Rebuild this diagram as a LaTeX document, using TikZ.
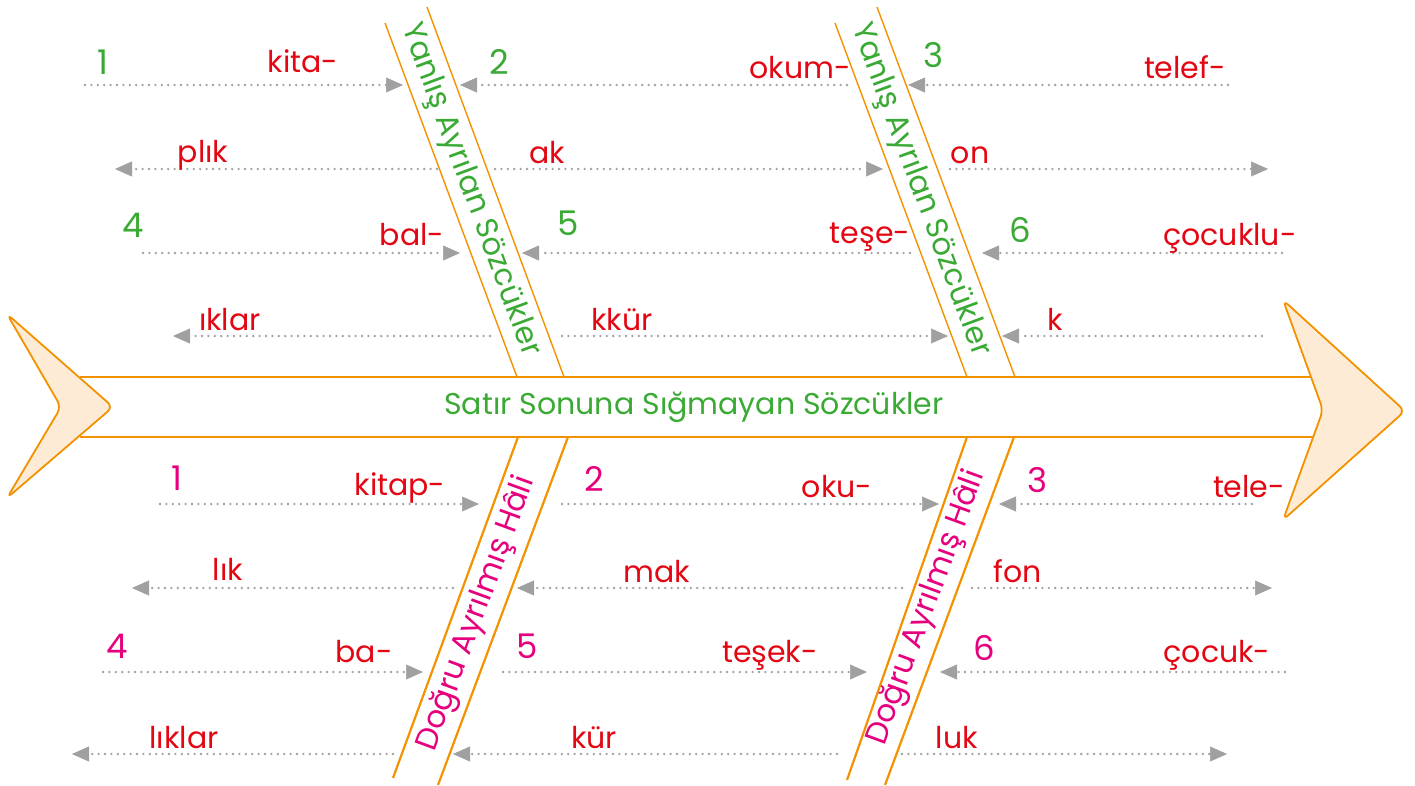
\documentclass[tikz,border=0pt]{standalone}
\usepackage{fontspec}
\setmainfont{Poppins}
\usetikzlibrary{arrows.meta}

\definecolor{boneorange}{RGB}{243,146,0}
\definecolor{fishfill}{RGB}{253,235,213}
\definecolor{wronggreen}{RGB}{58,170,53}
\definecolor{rightpink}{RGB}{230,0,126}
\definecolor{syllred}{RGB}{227,6,19}
\definecolor{dotgray}{RGB}{160,160,160}

\begin{document}
\begin{tikzpicture}[x=1pt,y=-1pt,
  dotarrow/.style={draw=dotgray, line width=2.6pt, line cap=round,
    dash pattern=on 0pt off 6.4pt,
    -{Triangle[length=17pt,width=15pt,line width=0.5pt,fill=dotgray]}},
  bone/.style={draw=boneorange, line width=1.4pt},
  syll/.style={anchor=base, inner sep=0pt, text=syllred,
    font=\fontsize{30}{30}\selectfont},
  numwrong/.style={inner sep=0pt, text=wronggreen, font=\fontsize{34}{34}\selectfont},
  numright/.style={inner sep=0pt, text=rightpink, font=\fontsize{34}{34}\selectfont},
  bonetext/.style={inner sep=0pt, font=\fontsize{30}{30}\selectfont}]

  \useasboundingbox (0,0) rectangle (1415,785);

  % spine
  \draw[bone] (80,377) -- (1320,377);
  \draw[bone] (80,437) -- (1320,437);
  \path [draw=boneorange, line width=1.8pt, fill=fishfill, rounded corners=7pt]
    (7,314) -- (113,407) -- (7,498) -- (61,407) -- cycle;
  \path [draw=boneorange, line width=1.8pt, fill=fishfill, rounded corners=7pt]
    (1283,300) -- (1405,411) -- (1283,520) -- (1323,410) -- cycle;
  \node[bonetext, text=wronggreen] (spine) at (694,407) {Satır Sonuna Sığmayan Sözcükler};

  % upper bones
  \draw[bone] (385,23) -- (517,377);
  \draw[bone] (427,7) -- (564,377);
  \draw[bone] (835,23) -- (967,377);
  \draw[bone] (877,7) -- (1015,377);
  \node[bonetext, text=wronggreen, rotate=-69.7, font=\fontsize{30.5}{30.5}\selectfont]
    (wrong1) at (470,190) {Yanlış Ayrılan Sözcükler};
  \node[bonetext, text=wronggreen, rotate=-69.7, font=\fontsize{30.5}{30.5}\selectfont]
    (wrong2) at (920,190) {Yanlış Ayrılan Sözcükler};

  % lower bones
  \draw[bone, line width=2.2pt] (518,437) -- (393,778);
  \draw[bone, line width=2.2pt] (568,437) -- (438,785);
  \draw[bone, line width=2.2pt] (967,437) -- (847,780);
  \draw[bone, line width=2.2pt] (1014,437) -- (885,785);
  \node[bonetext, text=rightpink, rotate=69.9, font=\fontsize{31}{31}\selectfont]
    (right1) at (477,614) {Doğru Ayrılmış Hâli};
  \node[bonetext, text=rightpink, rotate=69.9, font=\fontsize{31}{31}\selectfont]
    (right2) at (927,608) {Doğru Ayrılmış Hâli};

  % upper rows
  \draw[dotarrow] (85,85) -- (403,85);
  \draw[dotarrow] (847,85) -- (460,85);
  \draw[dotarrow] (1228,85) -- (908,85);
  \draw[dotarrow] (437,169) -- (115,169);
  \draw[dotarrow] (495,169) -- (883,169);
  \draw[dotarrow] (950,169) -- (1268,169);
  \draw[dotarrow] (143,253) -- (460,253);
  \draw[dotarrow] (910,253) -- (522,253);
  \draw[dotarrow] (1282,253) -- (982,253);
  \draw[dotarrow] (490,336) -- (173,336);
  \draw[dotarrow] (562,336) -- (948,336);
  \draw[dotarrow] (1262,336) -- (1002,336);

  \node[numwrong] (w1) at (103,62) {1};
  \node[numwrong] (w2) at (499,62) {2};
  \node[numwrong] (w3) at (933,55) {3};
  \node[numwrong] (w4) at (133,225) {4};
  \node[numwrong] (w5) at (568,223) {5};
  \node[numwrong] (w6) at (1020,230) {6};

  \node[syll] (kita) at (303,72) {kita-};
  \node[syll] (okum) at (800,78) {okum-};
  \node[syll] (telef) at (1185,78) {telef-};
  \node[syll] (plik) at (203,162) {plık};
  \node[syll] (ak) at (547,163) {ak};
  \node[syll] (on) at (970,163) {on};
  \node[syll] (bal) at (412,245) {bal-};
  \node[syll] (tese) at (870,243) {teşe-};
  \node[syll] (cocuklu) at (1230,245) {çocuklu-};
  \node[syll] (iklar) at (230,330) {ıklar};
  \node[syll] (kkur) at (622,330) {kkür};
  \node[syll] (k) at (1055,330) {k};

  % lower rows
  \draw[dotarrow] (160,504) -- (479,504);
  \draw[dotarrow] (562,504) -- (939,504);
  \draw[dotarrow] (1252,504) -- (999,504);
  \draw[dotarrow] (453,588) -- (132,588);
  \draw[dotarrow] (902,588) -- (517,588);
  \draw[dotarrow] (972,588) -- (1272,588);
  \draw[dotarrow] (103,672) -- (423,672);
  \draw[dotarrow] (503,672) -- (867,672);
  \draw[dotarrow] (1285,672) -- (940,672);
  \draw[dotarrow] (393,754) -- (72,754);
  \draw[dotarrow] (837,754) -- (453,754);
  \draw[dotarrow] (902,754) -- (1227,754);

  \node[numright] (r1) at (177,478) {1};
  \node[numright] (r2) at (594,479) {2};
  \node[numright] (r3) at (1037,480) {3};
  \node[numright] (r4) at (117,646) {4};
  \node[numright] (r5) at (527,646) {5};
  \node[numright] (r6) at (984,648) {6};

  \node[syll] (kitap) at (400,495) {kitap-};
  \node[syll] (oku) at (837,497) {oku-};
  \node[syll] (tele) at (1249,497) {tele-};
  \node[syll] (lik) at (228,580) {lık};
  \node[syll] (mak) at (657,582) {mak};
  \node[syll] (fon) at (1018,582) {fon};
  \node[syll] (ba) at (364,662) {ba-};
  \node[syll] (tesek) at (770,662) {teşek-};
  \node[syll] (cocuk) at (1217,662) {çocuk-};
  \node[syll] (liklar) at (184,748) {lıklar};
  \node[syll] (kur) at (594,748) {kür};
  \node[syll] (luk) at (957,748) {luk};

\end{tikzpicture}
\end{document}
